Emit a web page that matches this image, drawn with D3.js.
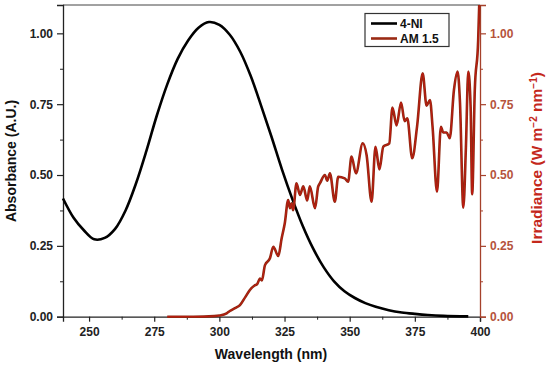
<!DOCTYPE html>
<html><head><meta charset="utf-8">
<script src="https://cdn.jsdelivr.net/npm/d3@7"></script>
<style>body{margin:0;background:#fff}svg{display:block}text{font-family:"Liberation Sans",Arial,sans-serif;font-weight:bold}</style>
</head><body>
<svg id="c" width="550" height="367"></svg>
<script>
// Absorbance of 4-NI
const absWl  = [240,244,248,252,256,260,264,268,272,276,280,284,288,292,296,300,304,308,312,316,320,324,328,332,336,340,344,348,352,356,360,365,370,375,380,386,395.5];
const absVal = [0.417,0.35,0.305,0.273,0.278,0.31,0.375,0.47,0.585,0.71,0.82,0.91,0.975,1.02,1.04,1.03,0.995,0.935,0.85,0.745,0.635,0.52,0.415,0.32,0.24,0.175,0.125,0.09,0.066,0.048,0.035,0.023,0.015,0.010,0.006,0.003,0.001];
// AM 1.5 irradiance
const amWl  = [280,290,298,300,302.8,304,306,307.9,310,311.7,313.5,314.5,315.6,316.3,317.5,319.4,320.7,322.6,323.9,325.1,326.4,327.1,327.7,328.3,329.6,330.9,332.2,333.7,334.7,336.7,337.9,338.6,340.5,341.4,342.4,344.3,345.6,348.1,349.4,350.7,352.4,355,356.5,358.4,359.9,361.4,362.9,365.2,366.4,368,369.7,371.1,372.1,374,375.9,378,379.5,380.8,381.8,383.5,385,385.9,387.2,388.4,390,391.4,392.3,393.6,394.6,395.5,396.4,397,398,399.3,399.7];
const amVal = [0,0,0.002,0.004,0.012,0.02,0.03,0.041,0.07,0.094,0.11,0.115,0.135,0.128,0.182,0.206,0.247,0.214,0.277,0.33,0.412,0.383,0.40,0.376,0.471,0.43,0.46,0.41,0.46,0.383,0.459,0.471,0.50,0.48,0.506,0.406,0.494,0.488,0.476,0.565,0.506,0.612,0.57,0.406,0.60,0.52,0.60,0.612,0.738,0.675,0.756,0.69,0.70,0.559,0.675,0.859,0.745,0.765,0.67,0.441,0.67,0.65,0.65,0.63,0.80,0.865,0.76,0.385,0.60,0.865,0.74,0.432,0.80,0.976,1.10];
const xTicks = [250,275,300,325,350,375,400];
const yTicks = [0,0.25,0.5,0.75,1.0];
const legendLabels = ["4-NI","AM 1.5"];

const svg = d3.select("#c");
const L=63,R=480,T=5,B=316.7;
const x = d3.scaleLinear().domain([240,400]).range([L,R]);
const yL = d3.scaleLinear().domain([0,1.1]).range([B,T]);
const yR = d3.scaleLinear().domain([0,1.1]).range([B,T]);
const fmt = d3.format(".2f");
const axisCol="#222", redAx="#a5412b", redLbl="#b5533c", redTitle="#c4281c";

svg.append("line").attr("x1",L).attr("x2",R).attr("y1",T).attr("y2",T).attr("stroke","#444").attr("stroke-width",1);

function styleAxis(g,col){g.select(".domain").attr("stroke",col).attr("stroke-width",1.3);g.selectAll(".tick line").attr("stroke",col).attr("stroke-width",1.2);g.selectAll("text").attr("fill",col==axisCol?"#222":redLbl).style("font-size","12px");}

const gb = svg.append("g").attr("transform",`translate(0,${B})`);
gb.call(d3.axisBottom(x).tickValues(xTicks).tickSize(5).tickPadding(6).tickFormat(d3.format("d")));
styleAxis(gb,axisCol);
svg.append("g").attr("transform",`translate(0,${B})`).call(d3.axisBottom(x).tickValues(d3.range(262.5,400,25)).tickSize(3).tickFormat("")).call(g=>{g.select(".domain").remove();g.selectAll("line").attr("stroke",axisCol);});
const gl = svg.append("g").attr("transform",`translate(${L},0)`);
gl.call(d3.axisLeft(yL).tickValues(yTicks).tickSize(6).tickPadding(4).tickFormat(fmt));
styleAxis(gl,axisCol);
svg.append("g").attr("transform",`translate(${L},0)`).call(d3.axisLeft(yL).tickValues([0.125,0.375,0.625,0.875]).tickSize(3).tickFormat("")).call(g=>{g.select(".domain").remove();g.selectAll("line").attr("stroke",axisCol);});
const gr = svg.append("g").attr("transform",`translate(${R},0)`);
gr.call(d3.axisRight(yR).tickValues(yTicks).tickSize(6).tickPadding(4).tickFormat(fmt));
styleAxis(gr,redAx);
svg.append("g").attr("transform",`translate(${R},0)`).call(d3.axisRight(yR).tickValues([0.125,0.375,0.625,0.875]).tickSize(3).tickFormat("")).call(g=>{g.select(".domain").remove();g.selectAll("line").attr("stroke",redAx);});

const absData = absWl.map((w,i)=>[w,absVal[i]]);
const amData = amWl.map((w,i)=>[w,amVal[i]]);
svg.append("path").datum(absData).attr("fill","none").attr("stroke","#000").attr("stroke-width",2.6)
  .attr("d",d3.line().x(d=>x(d[0])).y(d=>yL(d[1])).curve(d3.curveCatmullRom.alpha(0.5)));
const amLine = d3.line().x(d=>x(d[0])).y(d=>yR(d[1])).curve(d3.curveMonotoneX);
svg.append("path").datum(amData).attr("fill","none").attr("stroke","#8e2a12").attr("stroke-width",2.6).attr("stroke-linejoin","round").attr("d",amLine);
svg.append("path").datum(amData).attr("fill","none").attr("stroke","#e01010").attr("stroke-width",0.9).attr("opacity",0.7).attr("d",amLine);

svg.append("text").attr("x",271).attr("y",359).attr("text-anchor","middle").style("font-size","14px").attr("fill","#111").text("Wavelength (nm)");
svg.append("text").attr("transform","translate(16,161) rotate(-90)").attr("text-anchor","middle").style("font-size","14px").attr("fill","#111").text("Absorbance (A.U.)");
const rt = svg.append("text").attr("transform","translate(542,158) rotate(-90)").attr("text-anchor","middle").style("font-size","15.5px").attr("fill",redTitle);
rt.append("tspan").text("Irradiance (W m");
rt.append("tspan").attr("dy",-5).style("font-size","10px").text("−2");
rt.append("tspan").attr("dy",5).text(" nm");
rt.append("tspan").attr("dy",-5).style("font-size","10px").text("−1");
rt.append("tspan").attr("dy",5).text(")");

const lg = svg.append("g");
lg.append("rect").attr("x",365).attr("y",13.5).attr("width",84).attr("height",33).attr("fill","#fff").attr("stroke","#333").attr("stroke-width",1.2);
const lcols=["#000","#9a2a14"];
legendLabels.forEach((t,i)=>{
  const yy=23.5+i*15;
  lg.append("line").attr("x1",371).attr("x2",397).attr("y1",yy).attr("y2",yy).attr("stroke",lcols[i]).attr("stroke-width",2.6);
  lg.append("text").attr("x",400).attr("y",yy+4.3).style("font-size","12px").attr("fill","#111").text(t);
});
</script>
</body></html>
